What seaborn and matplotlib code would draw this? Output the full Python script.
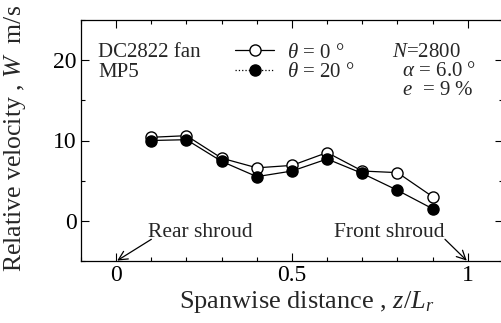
import numpy as np
import pandas as pd
import matplotlib
matplotlib.use("Agg")
import matplotlib.pyplot as plt
import seaborn as sns
from matplotlib.lines import Line2D

# ---- data ----
z = [0.1, 0.2, 0.3, 0.4, 0.5, 0.6, 0.7, 0.8, 0.9]
w_theta0 = [10.4, 10.6, 7.8, 6.6, 6.9, 8.5, 6.2, 6.0, 3.0]
w_theta20 = [10.0, 10.1, 7.4, 5.5, 6.2, 7.7, 5.9, 3.8, 1.5]
xticks = [0, 0.5, 1]
xticklabels = ["0", "0.5", "1"]
yticks = [0, 10, 20]

sns.set_theme(style="ticks")
plt.rcParams["font.family"] = ["Liberation Serif", "DejaVu Serif"]
plt.rcParams["mathtext.fontset"] = "custom"
plt.rcParams["mathtext.rm"] = "Liberation Serif"
plt.rcParams["mathtext.it"] = "Liberation Serif:italic"

fig = plt.figure(figsize=(5.02, 3.23), dpi=100)
ax = fig.add_axes([81 / 502, (323 - 261) / 323, (503 - 81) / 502, (261 - 20) / 323])

df0 = pd.DataFrame({"z": z, "w": w_theta0})
df20 = pd.DataFrame({"z": z, "w": w_theta20})
sns.lineplot(data=df0, x="z", y="w", ax=ax, color="black", lw=0.9, marker="o",
             markersize=8, markerfacecolor="white", markeredgecolor="black",
             markeredgewidth=1.0)
sns.lineplot(data=df20, x="z", y="w", ax=ax, color="black", lw=0.9, marker="o",
             markersize=8, markerfacecolor="black", markeredgecolor="black",
             markeredgewidth=1.0)

ax.set_xlim(-0.1, 1.1)
ax.set_ylim(-5, 25)
ax.set_xticks(xticks)
ax.set_xticklabels(xticklabels)
ax.set_yticks(yticks)
ax.set_xticks(np.arange(-0.1, 1.11, 0.1), minor=True)
ax.set_yticks([-5, 5, 15, 25], minor=True)
ax.tick_params(which="both", direction="in", top=True, right=True, labelsize=17,
               colors="black", width=0.8)
ax.tick_params(which="major", length=6, pad=3)
ax.tick_params(which="minor", length=3)
for s in ax.spines.values():
    s.set_color("black")
    s.set_linewidth(0.9)

ax.set_xlabel(r"Spanwise distance , $z/L_r$", fontsize=19)
ax.set_ylabel(r"Relative velocity , $W$  m/s", fontsize=18.5)
ax.xaxis.set_label_coords(0.534, -0.115)
ax.yaxis.set_label_coords(-0.125, 0.51)

handles = [
    Line2D([], [], color="black", lw=0.9, ls="-", marker="o", markersize=8,
           markerfacecolor="white", markeredgecolor="black"),
    Line2D([], [], color="black", lw=0.9, ls=":", marker="o", markersize=8,
           markerfacecolor="black", markeredgecolor="black"),
]
ax.legend(handles, [r"$\theta$ = 0 °", r"$\theta$ = 20 °"], frameon=False,
          loc="upper left", bbox_to_anchor=(0.33, 0.965), fontsize=15,
          handlelength=1.9, handletextpad=0.6, labelspacing=0.0,
          borderpad=0.2)

ax.text(0.04, 0.905, "DC2822 fan\nMP5", transform=ax.transAxes, fontsize=15,
        va="top", ha="left", linespacing=1.1)
ax.text(0.737, 0.905, "$N$=2800\n  $\\alpha$ = 6.0 °\n  $e$  = 9 %",
        transform=ax.transAxes, fontsize=15, va="top", ha="left",
        linespacing=1.0)

ax.text(0.09, -1.5, "Rear shroud", fontsize=15.5, va="center", ha="left")
ax.annotate("", xy=(0.003, -4.95), xytext=(0.1, -2.3),
            arrowprops=dict(arrowstyle="->", color="black", lw=0.9,
                            shrinkA=0, shrinkB=0, mutation_scale=16))
ax.text(0.62, -1.5, "Front shroud", fontsize=15.5, va="center", ha="left")
ax.annotate("", xy=(0.997, -4.95), xytext=(0.935, -2.3),
            arrowprops=dict(arrowstyle="->", color="black", lw=0.9,
                            shrinkA=0, shrinkB=0, mutation_scale=16))

fig.savefig("out.png", dpi=100)
